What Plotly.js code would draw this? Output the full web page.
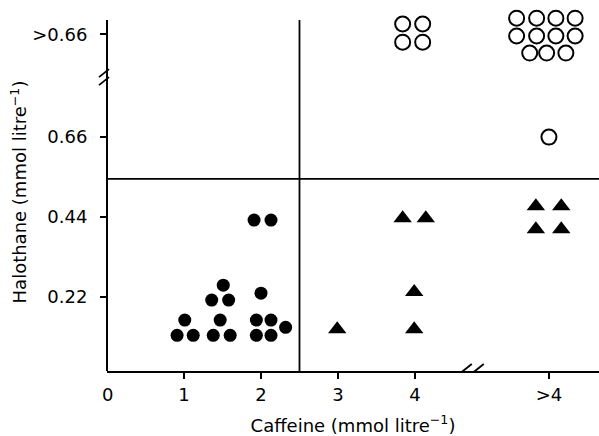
<!DOCTYPE html>
<html>
<head>
<meta charset="utf-8">
<script src="https://cdn.plot.ly/plotly-3.0.1.min.js"></script>
<style>html,body{margin:0;padding:0;background:#fff;}#chart{width:599px;height:436px;}</style>
</head>
<body>
<div id="chart"></div>
<script>
// Caffeine (x) and halothane (y) positions on the broken axes, as drawn
const filledX = [1.91, 2.13, 1.51, 1.36, 1.58, 2.00, 1.01, 0.91, 1.12, 1.47, 1.38, 1.60, 1.94, 2.13, 2.32, 1.94, 2.13];
const filledY = [0.432, 0.432, 0.253, 0.212, 0.212, 0.231, 0.157, 0.115, 0.115, 0.157, 0.115, 0.115, 0.157, 0.157, 0.137, 0.115, 0.115];

const triX = [3.84, 4.14, 3.99, 2.99, 3.99, 5.57, 5.90, 5.57, 5.90];
const triY = [0.437, 0.437, 0.234, 0.132, 0.132, 0.470, 0.470, 0.407, 0.407];

const openX = [3.84, 4.10, 3.84, 4.10, 5.32, 5.58, 5.83, 6.08, 5.32, 5.58, 5.83, 6.08, 5.49, 5.71, 5.96, 5.74];
const openY = [0.971, 0.971, 0.921, 0.921, 0.987, 0.987, 0.987, 0.987, 0.938, 0.938, 0.938, 0.938, 0.891, 0.891, 0.891, 0.66];

const xTickVals = [1, 2, 3, 4, 5.74];
const xTickText = ['1', '2', '3', '4', '>4'];
const yTickVals = [0.22, 0.44, 0.66, 0.943];
const yTickText = ['0.22', '0.44', '0.66', '>0.66'];

const caffeineCut = 2.5;
const halothaneCut = 0.545;
const xBreak = 4.75;
const yBreak = 0.825;
const yAxisBottom = 0.017;
const yAxisTop = 0.982;

const FONT = 'DejaVu Sans, Arial, sans-serif';

const traces = [
  {x: filledX, y: filledY, type: 'scatter', mode: 'markers', cliponaxis: false,
   marker: {symbol: 'circle', size: 13, color: '#000'}},
  {x: triX, y: triY, type: 'scatter', mode: 'markers', cliponaxis: false,
   marker: {symbol: 'triangle-up', size: 16, color: '#000'}},
  {x: openX, y: openY, type: 'scatter', mode: 'markers', cliponaxis: false,
   marker: {symbol: 'circle-open', size: 15, color: '#000', line: {width: 2, color: '#000'}}}
];

function slash(xref, yref, xa, ya, dx, dy) {
  return {type: 'path', xref: xref, yref: yref, xsizemode: 'pixel', ysizemode: 'pixel',
    xanchor: xa, yanchor: ya,
    path: 'M' + (dx - 5) + ',' + (dy - 4) + ' L' + (dx + 5) + ',' + (dy + 4),
    line: {color: '#000', width: 1.8}};
}

const layout = {
  width: 599, height: 436,
  margin: {l: 107, r: 0, t: 13, b: 65},
  paper_bgcolor: '#fff', plot_bgcolor: '#fff',
  showlegend: false,
  font: {family: FONT, size: 18, color: '#000'},
  xaxis: {
    range: [0, 6.39], showgrid: false, zeroline: false,
    showline: true, linewidth: 2, linecolor: '#000',
    ticks: 'outside', ticklen: 6, tickwidth: 1.5, tickcolor: '#000',
    tickvals: xTickVals, ticktext: xTickText,
    tickfont: {family: FONT, size: 18, color: '#000'},
    title: {text: 'Caffeine (mmol litre<sup>−1</sup>)', font: {family: FONT, size: 18, color: '#000'}, standoff: 18},
    automargin: false
  },
  yaxis: {
    range: [yAxisBottom, yAxisTop + 7 / 363.6], showgrid: false, zeroline: false,
    showline: false,
    ticks: 'outside', ticklen: 6, tickwidth: 1.5, tickcolor: '#000',
    tickvals: yTickVals, ticktext: yTickText, ticklabelstandoff: 9,
    tickfont: {family: FONT, size: 18, color: '#000'},
    title: {text: 'Halothane (mmol litre<sup>−1</sup>)', font: {family: FONT, size: 18, color: '#000'}, standoff: 0},
    automargin: false
  },
  shapes: [
    {type: 'line', xref: 'paper', yref: 'y', x0: 0, x1: 0, y0: yAxisBottom, y1: yAxisTop, line: {color: '#000', width: 2}},
    {type: 'line', xref: 'x', yref: 'y', x0: caffeineCut, x1: caffeineCut, y0: yAxisBottom, y1: yAxisTop, line: {color: '#000', width: 1.8}},
    {type: 'line', xref: 'paper', yref: 'y', x0: 0, x1: 1, y0: halothaneCut, y1: halothaneCut, line: {color: '#000', width: 1.8}},
    slash('paper', 'y', 0, yBreak, -3, 4),
    slash('paper', 'y', 0, yBreak, -3, -4),
    slash('x', 'paper', xBreak, 0, -6, 3),
    slash('x', 'paper', xBreak, 0, 6, 3)
  ],
  annotations: [
    {text: '0', xref: 'x', yref: 'paper', x: 0, y: 0, yshift: -36, showarrow: false,
     font: {family: FONT, size: 18, color: '#000'}}
  ]
};

Plotly.newPlot('chart', traces, layout, {displayModeBar: false, staticPlot: true});
</script>
</body>
</html>
